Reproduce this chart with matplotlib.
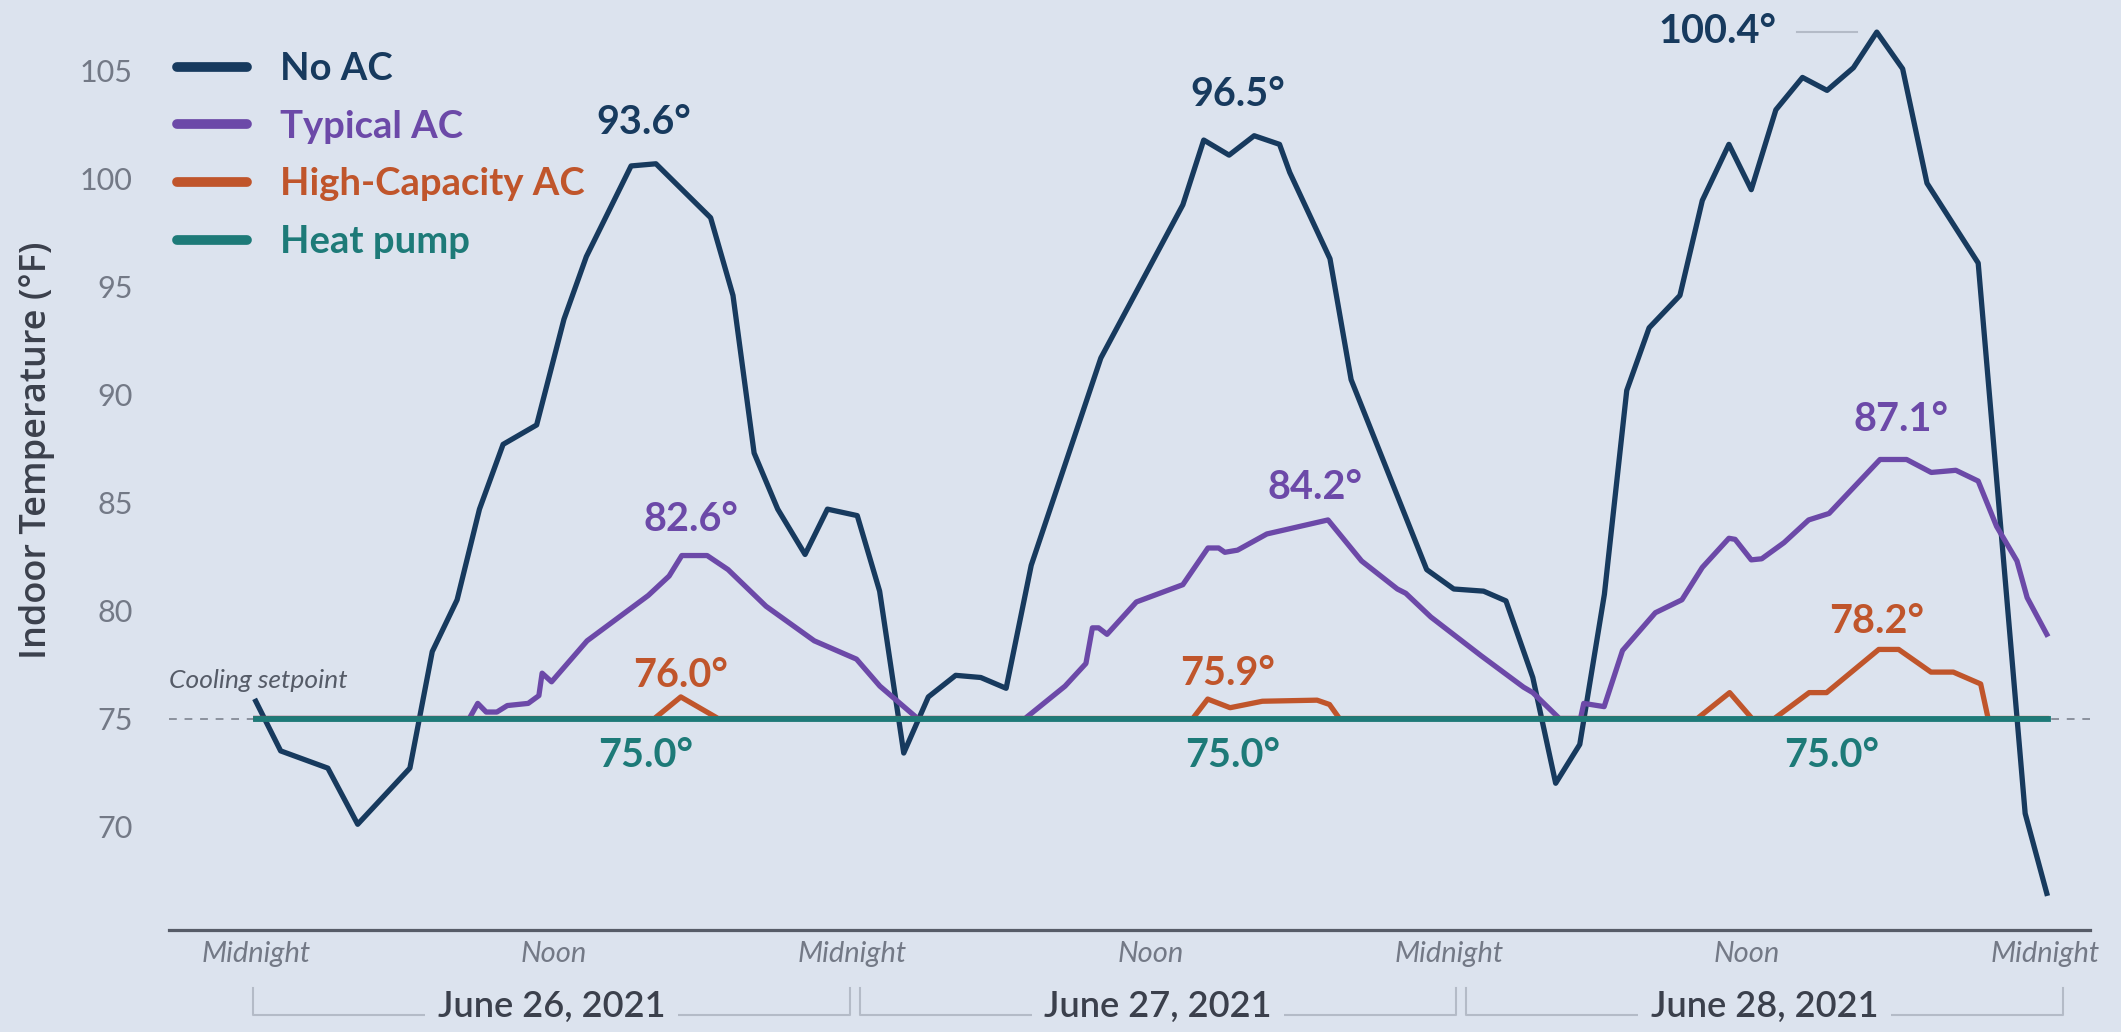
import matplotlib
matplotlib.use("Agg")
import matplotlib.pyplot as plt
from matplotlib.lines import Line2D
import numpy as np

plt.rcParams['font.family'] = ['Lato', 'DejaVu Sans']

# ---- data (hours since midnight June 26, °F) ----
no_ac_hours = [0.0, 1.0, 2.9, 4.1, 6.2, 7.1, 8.1, 9.0, 9.95, 11.3, 12.4, 13.3, 15.1, 16.1,
               18.3, 19.2, 20.05, 21.0, 22.1, 23.0, 24.2, 25.1, 26.07, 27.06, 28.16, 29.17,
               30.19, 31.2, 34.0, 37.3, 38.14, 39.16, 40.17, 41.19, 41.6, 43.22, 44.07,
               47.11, 48.2, 49.4, 50.3, 51.38, 52.3, 53.27, 54.26, 55.16, 56.06, 57.3,
               58.2, 59.27, 60.17, 61.16, 62.23, 63.22, 64.28, 65.22, 66.26, 67.24, 69.3,
               71.19, 72.06]
no_ac_temp = [75.8, 73.5, 72.7, 70.1, 72.7, 78.1, 80.5, 84.7, 87.7, 88.6, 93.5, 96.4, 100.6, 100.7,
              98.2, 94.6, 87.3, 84.7, 82.6, 84.7, 84.4, 80.9, 73.4, 76.0, 77.0, 76.9,
              76.4, 82.1, 91.7, 98.8, 101.8, 101.1, 102.0, 101.6, 100.3, 96.3, 90.7,
              81.9, 81.0, 80.9, 80.45, 76.9, 72.0, 73.8, 80.75, 90.2, 93.1, 94.6,
              99.0, 101.6, 99.5, 103.2, 104.7, 104.1, 105.15, 106.8, 105.1, 99.8, 96.1,
              70.6, 66.9]

typical_hours = [0.0, 8.59, 8.93, 9.27, 9.7, 10.12, 10.96, 11.39, 11.52, 11.9, 13.33, 15.79,
                 16.63, 17.14, 18.16, 19.0, 20.53, 22.47, 24.17, 25.11, 26.63, 30.95, 32.56,
                 33.4, 33.66, 33.91, 34.25, 35.43, 37.3, 38.31, 38.74, 38.99, 39.5, 40.68,
                 43.14, 44.49, 45.93, 46.27, 47.28, 49.31, 51.01, 51.38, 52.45, 53.3, 53.43,
                 54.25, 54.99, 56.31, 57.38, 58.2, 59.27, 59.52, 60.17, 60.59, 61.49, 62.48,
                 63.3, 65.35, 66.42, 67.41, 68.4, 69.3, 70.04, 70.86, 71.27, 72.06]
typical_temp = [75.0, 75.0, 75.7, 75.3, 75.3, 75.6, 75.7, 76.06, 77.1, 76.7, 78.6, 80.7,
                81.6, 82.55, 82.55, 81.9, 80.2, 78.6, 77.75, 76.5, 75.0, 75.0, 76.5,
                77.55, 79.2, 79.2, 78.9, 80.4, 81.2, 82.9, 82.9, 82.7, 82.8, 83.55,
                84.2, 82.3, 81.0, 80.8, 79.7, 77.9, 76.45, 76.2, 75.0, 75.0, 75.7,
                75.55, 78.15, 79.9, 80.5, 82.0, 83.35, 83.3, 82.35, 82.4, 83.15, 84.2,
                84.5, 87.0, 87.0, 86.4, 86.5, 86.0, 83.9, 82.3, 80.6, 78.9]

highcap_hours = [0.0, 16.04, 17.1, 18.6, 37.7, 38.3, 39.2, 40.5, 42.7, 43.2, 43.6, 58.0,
                 59.3, 60.2, 61.1, 62.5, 63.2, 65.3, 66.1, 67.4, 68.3, 69.4, 69.7, 72.06]
highcap_temp = [75.0, 75.0, 76.0, 75.0, 75.0, 75.9, 75.5, 75.8, 75.85, 75.65, 75.0, 75.0,
                76.2, 75.0, 75.0, 76.2, 76.2, 78.2, 78.2, 77.15, 77.15, 76.6, 75.0, 75.0]

heatpump_hours = [0.0, 72.1]
heatpump_temp = [75.0, 75.0]

setpoint = 75.0

series_names = ["No AC", "Typical AC", "High-Capacity AC", "Heat pump"]
colors = ["#173a5e", "#6c49a8", "#c0552b", "#1d7a78"]

# peak labels: (text, hour, temp, series index)
peak_labels = [
    ("93.6°", 15.6, 102.6, 0), ("96.5°", 39.5, 103.9, 0), ("100.4°", 58.8, 106.85, 0),
    ("82.6°", 17.5, 84.2, 1), ("84.2°", 42.6, 85.7, 1), ("87.1°", 66.2, 88.85, 1),
    ("76.0°", 17.1, 77.0, 2), ("75.9°", 39.1, 77.1, 2), ("78.2°", 65.2, 79.5, 2),
    ("75.0°", 15.7, 73.3, 3), ("75.0°", 39.3, 73.3, 3), ("75.0°", 63.4, 73.3, 3),
]

tick_hours = [0, 12, 24, 36, 48, 60, 72]
tick_names = ["Midnight", "Noon", "Midnight", "Noon", "Midnight", "Noon", "Midnight"]
day_names = ["June 26, 2021", "June 27, 2021", "June 28, 2021"]
y_ticks = [70, 75, 80, 85, 90, 95, 100, 105]

bg = "#dce3ee"
grey_text = "#737986"
dark_text = "#3b404c"

fig = plt.figure(figsize=(21.21, 10.32), dpi=100, facecolor=bg)
ax = fig.add_axes([0.0797, 0.0988, 0.9057, 0.891])
ax.set_facecolor(bg)

ax.axhline(setpoint, color="#8b919d", lw=1.4, ls=(0, (4, 4)), zorder=1)

lw = 3.8
ax.plot(no_ac_hours, no_ac_temp, color=colors[0], lw=lw, solid_joinstyle='round', zorder=3)
ax.plot(typical_hours, typical_temp, color=colors[1], lw=lw, solid_joinstyle='round', zorder=3)
ax.plot(highcap_hours, highcap_temp, color=colors[2], lw=lw, solid_joinstyle='round', zorder=3)
ax.plot(heatpump_hours, heatpump_temp, color=colors[3], lw=4.2, zorder=4)

for txt, hx, ty, si in peak_labels:
    ax.text(hx, ty, txt, color=colors[si], fontsize=28.5, fontweight='bold',
            ha='center', va='center', zorder=6)

# thin connector for the last No AC peak
pk = int(np.argmax(no_ac_temp))
ax.plot([no_ac_hours[pk] - 3.2, no_ac_hours[pk] - 0.8], [no_ac_temp[pk]] * 2,
        color="#b4bbc7", lw=1.5, zorder=2)

ax.text(0.0, setpoint + 1.75, "Cooling setpoint", transform=ax.get_yaxis_transform(),
        fontsize=19, style='italic', color="#555b67", ha='left', va='center')

ax.set_xlim(-3.49, 73.8)
ax.set_ylim(65.2, 107.8)
ax.set_yticks(y_ticks)
ax.set_yticklabels([str(v) for v in y_ticks], fontsize=22, color=grey_text)
ax.set_xticks(tick_hours)
ax.set_xticklabels(tick_names, fontsize=21, style='italic', color=grey_text)
ax.tick_params(axis='y', length=0, pad=26)
ax.tick_params(axis='x', length=0, pad=8)

for s in ["top", "right", "left"]:
    ax.spines[s].set_visible(False)
ax.spines["bottom"].set_color("#575c68")
ax.spines["bottom"].set_linewidth(2.3)

# day brackets under the axis
tr = ax.get_xaxis_transform()
for d, name in enumerate(day_names):
    x0 = 24 * d + 0.4 * d - 0.1
    x1 = x0 + 24
    ax.plot([x0, x0, x1, x1], [-0.063, -0.0924, -0.0924, -0.063], transform=tr,
            color="#b4bbc7", lw=1.5, clip_on=False)
    ax.text((x0 + x1) / 2, -0.0826, name, transform=tr, ha='center', va='center',
            fontsize=26, fontweight='semibold', color=dark_text,
            bbox=dict(boxstyle='square,pad=0.35', fc=bg, ec='none'), clip_on=False)

handles = [Line2D([], [], color=c, lw=7, solid_capstyle='round') for c in colors]
leg = ax.legend(handles, series_names, loc='upper left', bbox_to_anchor=(0.004, 0.955),
                frameon=False, handlelength=1.85, handletextpad=0.85, labelspacing=0.62,
                borderpad=0, borderaxespad=0, prop=dict(size=27.5, weight='bold'))
for t, c in zip(leg.get_texts(), colors):
    t.set_color(c)

fig.text(37 / 2121, 1 - 450 / 1032, "Indoor Temperature (°F)", rotation=90,
         ha='center', va='center', fontsize=26, fontweight='semibold', color=dark_text,
         family=['Open Sans', 'DejaVu Sans'])

fig.savefig("out.png", dpi=100, facecolor=bg)
